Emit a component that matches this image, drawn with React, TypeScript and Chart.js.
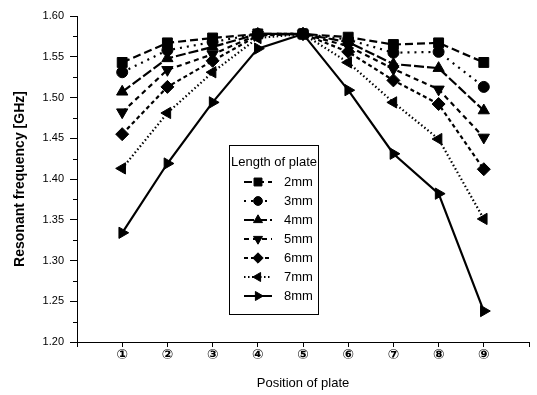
import React, { useEffect, useRef } from 'react';
import { Chart, registerables } from 'chart.js';
import { drawPoint } from 'chart.js/helpers';

Chart.register(...registerables);

// ---- data ----
const positions = [1, 2, 3, 4, 5, 6, 7, 8, 9];
const positionLabels = ['①', '②', '③', '④', '⑤', '⑥', '⑦', '⑧', '⑨'];
const yTickMin = 1.2;
const yTickMax = 1.6;
const yTickStep = 0.05;
const legendTitle = 'Length of plate';
const seriesNames = ['2mm', '3mm', '4mm', '5mm', '6mm', '7mm', '8mm'];

const len2mm = [1.543, 1.567, 1.573, 1.578, 1.578, 1.574, 1.565, 1.567, 1.543];
const len3mm = [1.531, 1.558, 1.568, 1.578, 1.578, 1.571, 1.555, 1.556, 1.513];
const len4mm = [1.507, 1.548, 1.562, 1.578, 1.578, 1.568, 1.541, 1.536, 1.484];
const len5mm = [1.482, 1.534, 1.553, 1.577, 1.578, 1.563, 1.535, 1.510, 1.451];
const len6mm = [1.455, 1.513, 1.545, 1.576, 1.578, 1.556, 1.521, 1.492, 1.412];
const len7mm = [1.413, 1.481, 1.531, 1.573, 1.578, 1.543, 1.494, 1.449, 1.351];
const len8mm = [1.334, 1.419, 1.494, 1.560, 1.578, 1.509, 1.431, 1.382, 1.238];

const seriesValues = [len2mm, len3mm, len4mm, len5mm, len6mm, len7mm, len8mm];

// ---- styles ----
const seriesStyles = [
  { pointStyle: 'rect', rotation: 0, radius: 7, dash: [8, 4] },
  { pointStyle: 'circle', rotation: 0, radius: 5.5, dash: [2, 5] },
  { pointStyle: 'triangle', rotation: 0, radius: 6.5, dash: [10, 3] },
  { pointStyle: 'triangle', rotation: 180, radius: 6.5, dash: [5, 4] },
  { pointStyle: 'rectRot', rotation: 0, radius: 6.5, dash: [4, 3] },
  { pointStyle: 'triangle', rotation: 270, radius: 6.5, dash: [1.5, 2.5] },
  { pointStyle: 'triangle', rotation: 90, radius: 6.5, dash: [] },
];

const FONT = '"Liberation Sans", Arial, sans-serif';

const minorTicksPlugin = {
  id: 'minorTicks',
  afterDraw(chart: any) {
    const y = chart.scales.y;
    const ctx = chart.ctx;
    ctx.save();
    ctx.strokeStyle = '#000';
    ctx.lineWidth = 1;
    for (let v = yTickMin + yTickStep / 2; v < yTickMax; v += yTickStep) {
      const py = Math.round(y.getPixelForValue(v)) + 0.5;
      ctx.beginPath();
      ctx.moveTo(y.right - 4, py);
      ctx.lineTo(y.right, py);
      ctx.stroke();
    }
    ctx.restore();
  },
};

const boxLegendPlugin = {
  id: 'boxLegend',
  afterDraw(chart: any) {
    const ctx = chart.ctx;
    const area = chart.chartArea;
    const bx = area.left + 152;
    const by = area.top + 129;
    const bw = 89;
    const bh = 169;
    ctx.save();
    ctx.fillStyle = '#fff';
    ctx.fillRect(bx, by, bw, bh);
    ctx.strokeStyle = '#000';
    ctx.lineWidth = 1;
    ctx.setLineDash([]);
    ctx.strokeRect(bx + 0.5, by + 0.5, bw, bh);
    ctx.fillStyle = '#000';
    ctx.font = '13px ' + FONT;
    ctx.textBaseline = 'middle';
    ctx.textAlign = 'left';
    ctx.fillText(legendTitle, bx + 2, by + 17);
    chart.data.datasets.forEach((ds: any, i: number) => {
      const st = seriesStyles[i];
      const cy = by + 37 + i * 19;
      ctx.strokeStyle = '#000';
      ctx.lineWidth = 2;
      ctx.setLineDash(st.dash);
      ctx.beginPath();
      ctx.moveTo(bx + 15, cy);
      ctx.lineTo(bx + 43, cy);
      ctx.stroke();
      ctx.setLineDash([]);
      ctx.fillStyle = '#000';
      ctx.lineWidth = 1;
      drawPoint(ctx, { pointStyle: st.pointStyle, rotation: st.rotation, radius: st.radius * 0.8, borderWidth: 1 }, bx + 29, cy);
      ctx.fillStyle = '#000';
      ctx.font = '13px ' + FONT;
      ctx.fillText(ds.label, bx + 55, cy);
    });
    ctx.restore();
  },
};

export default function App() {
  const canvasRef = useRef<HTMLCanvasElement>(null);

  useEffect(() => {
    const canvas = canvasRef.current;
    if (!canvas) return;
    const datasets = seriesNames.map((name, i) => ({
      label: name,
      data: positions.map((p, j) => ({ x: p, y: seriesValues[i][j] })),
      borderColor: '#000',
      backgroundColor: '#000',
      borderWidth: 2.2,
      borderDash: seriesStyles[i].dash,
      pointStyle: seriesStyles[i].pointStyle,
      rotation: seriesStyles[i].rotation,
      pointRadius: seriesStyles[i].radius,
      pointBorderWidth: 1,
      pointBackgroundColor: '#000',
      pointBorderColor: '#000',
      showLine: true,
      tension: 0,
    }));

    const chart = new Chart(canvas, {
      type: 'scatter',
      data: { datasets },
      plugins: [minorTicksPlugin, boxLegendPlugin],
      options: {
        animation: false,
        responsive: false,
        maintainAspectRatio: false,
        layout: { padding: { top: 16, right: 8, left: 0, bottom: 0 } },
        plugins: { legend: { display: false }, tooltip: { enabled: false } },
        scales: {
          x: {
            type: 'linear',
            min: 0,
            max: 10,
            afterBuildTicks: (scale: any) => {
              scale.ticks = [0, ...positions, 10].map((v) => ({ value: v }));
            },
            afterFit: (scale: any) => {
              scale.height = 53;
            },
            ticks: {
              autoSkip: false,
              maxRotation: 0,
              padding: 0,
              color: '#000',
              font: { size: 14, weight: 'bold', family: '"DejaVu Sans", "Noto Sans CJK JP", sans-serif' },
              callback: (v: any) => {
                const idx = positions.indexOf(Number(v));
                return idx >= 0 ? positionLabels[idx] : '';
              },
            },
            grid: { drawOnChartArea: false, drawTicks: true, tickLength: 5, color: '#000', tickColor: '#000' },
            border: { display: true, color: '#000', width: 1 },
            title: {
              display: true,
              text: 'Position of plate',
              color: '#000',
              font: { size: 13, family: FONT },
              padding: { top: 0, bottom: 4 },
            },
          },
          y: {
            type: 'linear',
            min: yTickMin,
            max: yTickMax,
            afterFit: (scale: any) => {
              scale.width = 77;
            },
            ticks: {
              stepSize: yTickStep,
              padding: 6,
              color: '#000',
              font: { size: 11, family: FONT },
              callback: (v: any) => Number(v).toFixed(2),
            },
            grid: { drawOnChartArea: false, drawTicks: true, tickLength: 7, color: '#000', tickColor: '#000' },
            border: { display: true, color: '#000', width: 1 },
            title: {
              display: true,
              text: 'Resonant frequency [GHz]',
              color: '#000',
              font: { size: 14, weight: 'bold', family: FONT },
              padding: { top: 12, bottom: 0 },
            },
          },
        },
      },
    });
    return () => chart.destroy();
  }, []);

  return (
    <div style={{ position: 'fixed', left: 0, top: 0, width: 537, height: 395, background: '#fff' }}>
      <canvas ref={canvasRef} width={537} height={395} style={{ display: 'block', width: 537, height: 395 }} />
    </div>
  );
}
